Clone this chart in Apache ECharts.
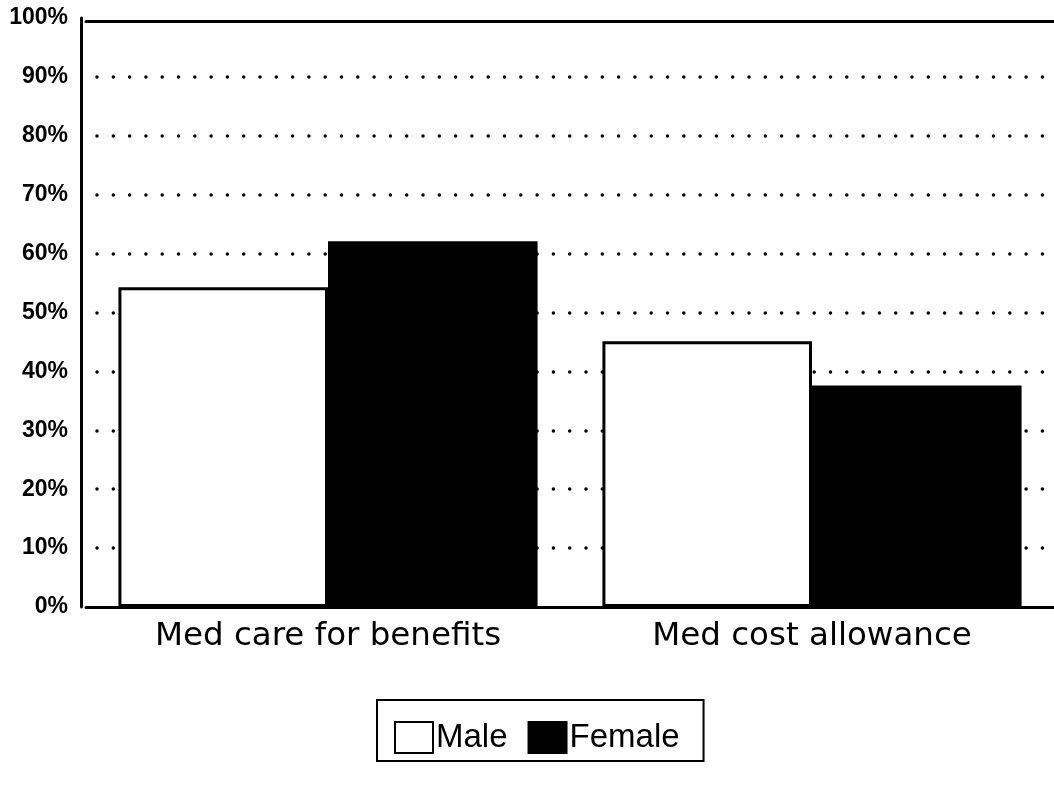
<!DOCTYPE html>
<html>
<head>
<meta charset="utf-8">
<script src="https://cdn.jsdelivr.net/npm/echarts@6/dist/echarts.min.js"></script>
<style>
html,body{margin:0;padding:0;background:#fff;}
#chart{width:1054px;height:787px;}
</style>
</head>
<body>
<div id="chart"></div>
<script>
var categories = ['Med care for benefits', 'Med cost allowance'];
var maleValues = [54.3, 45.1];
var femaleValues = [62.1, 37.6];
var seriesNames = ['Male', 'Female'];

var chart = echarts.init(document.getElementById('chart'), null, {renderer: 'canvas'});
var font = 'Liberation Sans, Arial, sans-serif';
var wideFont = 'DejaVu Sans, sans-serif';
var gridColors = ['transparent', '#000', '#000', '#000', '#000', '#000', '#000', '#000', '#000', '#000', 'transparent'];
chart.setOption({
  animation: false,
  backgroundColor: '#fff',
  grid: {left: 86, right: 0, top: 18, bottom: 180, containLabel: false},
  legend: {
    data: seriesNames,
    left: 377, top: 700,
    orient: 'horizontal',
    borderColor: '#000', borderWidth: 2, borderRadius: 0,
    padding: [21, 24, 7, 17],
    itemWidth: 38, itemHeight: 31, itemGap: 20,
    icon: 'rect',
    textStyle: {fontFamily: font, fontSize: 33, color: '#000', padding: [0, 0, 0, -2]}
  },
  xAxis: [{
    type: 'category',
    data: categories,
    axisLine: {show: true, lineStyle: {color: '#000', width: 3}},
    axisTick: {show: false},
    axisLabel: {fontFamily: wideFont, fontSize: 32.5, color: '#000', margin: 13},
    splitLine: {show: false}
  }, {
    type: 'category',
    position: 'top',
    offset: -3,
    data: categories,
    axisLine: {show: true, lineStyle: {color: '#000', width: 3}},
    axisTick: {show: false},
    axisLabel: {show: false}
  }],
  yAxis: {
    type: 'value',
    min: 0, max: 100, interval: 10,
    offset: 5,
    axisLine: {show: true, lineStyle: {color: '#000', width: 3}},
    axisTick: {show: false},
    axisLabel: {formatter: '{value}%', fontFamily: font, fontSize: 23, fontWeight: 'bold', color: '#000', margin: 13},
    splitLine: {show: true, lineStyle: {color: gridColors, width: 3.5, type: [0, 16.3], dashOffset: -11, cap: 'round'}}
  },
  series: [{
    name: seriesNames[0],
    type: 'bar',
    data: maleValues,
    barGap: '0%',
    barCategoryGap: '13.4%',
    itemStyle: {color: '#fff', borderColor: '#000', borderWidth: 3}
  }, {
    name: seriesNames[1],
    type: 'bar',
    data: femaleValues,
    barGap: '0%',
    barCategoryGap: '13.4%',
    itemStyle: {color: '#000', borderColor: '#000', borderWidth: 3}
  }]
});
</script>
</body>
</html>
